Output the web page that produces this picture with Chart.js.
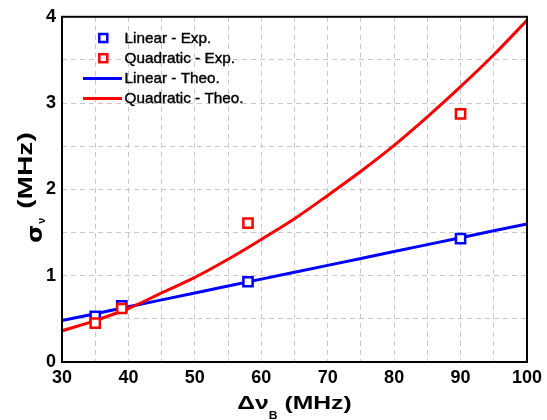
<!DOCTYPE html>
<html><head><meta charset="utf-8">
<script src="https://cdn.jsdelivr.net/npm/chart.js@4"></script>
<style>html,body{margin:0;padding:0;background:#fff}#wrap{width:547px;height:420px}</style>
</head><body><div id="wrap"><canvas id="c" width="547" height="420"></canvas></div>
<script>
// ---- data ----
const expX = [35, 39, 58, 90];
const linearExp = [0.53, 0.65, 0.93, 1.43];
const quadraticExp = [0.45, 0.62, 1.61, 2.875];
const theoX = [30, 35, 40, 45, 50, 55, 60, 65, 70, 75, 80, 85, 90, 95, 100];
const linearTheo = [0.48, 0.56, 0.64, 0.72, 0.80, 0.88, 0.96, 1.04, 1.12, 1.20, 1.28, 1.36, 1.44, 1.52, 1.60];
const quadraticTheo = [0.36, 0.48, 0.62, 0.80, 0.98, 1.19, 1.42, 1.66, 1.93, 2.21, 2.51, 2.84, 3.19, 3.56, 3.96];
const xTickLabels = [30, 40, 50, 60, 70, 80, 90, 100];
const yTickLabels = [0, 1, 2, 3, 4];
const seriesNames = ['Linear - Exp.', 'Quadratic - Exp.', 'Linear - Theo.', 'Quadratic - Theo.'];

const BLUE = '#0000ff', RED = '#ff0000';
const pts = (xs, ys) => xs.map((x, i) => ({x: x, y: ys[i]}));

const datasets = [
  {label: seriesNames[0], data: pts(expX, linearExp), showLine: false, pointStyle: 'rect',
   pointRadius: 6.5, borderColor: BLUE, backgroundColor: '#fff', pointBorderWidth: 2.5, order: 1, kind: 'marker'},
  {label: seriesNames[1], data: pts(expX, quadraticExp), showLine: false, pointStyle: 'rect',
   pointRadius: 6.5, borderColor: RED, backgroundColor: '#fff', pointBorderWidth: 2.5, order: 0, kind: 'marker'},
  {label: seriesNames[2], data: pts(theoX, linearTheo), showLine: true, pointRadius: 0,
   borderColor: BLUE, borderWidth: 3, fill: false, order: 3, kind: 'line'},
  {label: seriesNames[3], data: pts(theoX, quadraticTheo), showLine: true, pointRadius: 0,
   borderColor: RED, borderWidth: 3, fill: false, cubicInterpolationMode: 'monotone', order: 2, kind: 'line'}
];

const decor = {
  id: 'decor',
  afterDraw(chart) {
    const ctx = chart.ctx, a = chart.chartArea;
    ctx.save();
    // plot frame
    ctx.strokeStyle = '#000'; ctx.lineWidth = 2;
    ctx.strokeRect(a.left, a.top, a.right - a.left, a.bottom - a.top);

    // legend
    ctx.font = '15px "Liberation Sans", Arial, sans-serif';
    ctx.textBaseline = 'middle'; ctx.textAlign = 'left';
    chart.data.datasets.forEach((ds, i) => {
      const cy = a.top + 20.7 + i * 20.2;
      if (ds.kind === 'marker') {
        ctx.strokeStyle = ds.borderColor; ctx.lineWidth = 2.5; ctx.fillStyle = '#fff';
        ctx.fillRect(a.left + 37.3, cy - 3.5, 8, 8);
        ctx.strokeRect(a.left + 37.3, cy - 3.5, 8, 8);
      } else {
        ctx.strokeStyle = ds.borderColor; ctx.lineWidth = 3;
        ctx.beginPath(); ctx.moveTo(a.left + 21, cy + 0.5); ctx.lineTo(a.left + 60, cy + 0.5); ctx.stroke();
      }
      ctx.fillStyle = '#000'; ctx.strokeStyle = '#000'; ctx.lineWidth = 0.4;
      ctx.save(); ctx.translate(a.left + 62.5, cy + 1); ctx.scale(1.02, 1);
      ctx.fillText(ds.label, 0, 0); ctx.strokeText(ds.label, 0, 0); ctx.restore();
    });

    // x title: Δν_B (MHz)
    ctx.fillStyle = '#000'; ctx.textBaseline = 'alphabetic';
    const sx = 1.3;
    const mainF = 'bold 19px "Liberation Sans", Arial, sans-serif';
    const subF = 'bold 11px "Liberation Sans", Arial, sans-serif';
    ctx.font = mainF; const w1 = ctx.measureText('Δν').width * sx;
    const w3 = ctx.measureText(' (MHz)').width * sx;
    ctx.font = subF; const w2 = ctx.measureText('B').width * 1.1;
    let x0 = (a.left + a.right) / 2 - (w1 + w2 + w3) / 2;
    const base = a.bottom + 46.5;
    ctx.save(); ctx.translate(x0, base); ctx.scale(sx, 1); ctx.font = mainF; ctx.fillText('Δν', 0, 0); ctx.restore();
    ctx.save(); ctx.translate(x0 + w1, base + 10.5); ctx.scale(1.1, 1); ctx.font = subF; ctx.fillText('B', 0, 0); ctx.restore();
    ctx.save(); ctx.translate(x0 + w1 + w2, base); ctx.scale(sx, 1); ctx.font = mainF; ctx.fillText(' (MHz)', 0, 0); ctx.restore();

    // y title: σ_ν (MHz), rotated
    const yF = 'bold 21px "Liberation Sans", Arial, sans-serif';
    const sigF = 'bold 22px "DejaVu Sans", sans-serif';
    const nuF = 'bold 11px "Liberation Sans", Arial, sans-serif';
    ctx.save();
    ctx.rotate(-Math.PI / 2);
    const start = -(a.top + 226);
    ctx.save(); ctx.translate(start, 42); ctx.scale(1.05, 1); ctx.font = sigF; ctx.fillText('σ', 0, 0);
    const sw = ctx.measureText('σ').width; ctx.restore();
    ctx.save(); ctx.translate(start + sw * 1.05 + 1, 45); ctx.font = nuF; ctx.fillText('ν', 0, 0); ctx.restore();
    ctx.save(); ctx.translate(-(a.top + 192), 32); ctx.scale(1.34, 1); ctx.font = yF; ctx.fillText('(MHz)', 0, 0); ctx.restore();
    ctx.restore();
    ctx.restore();
  }
};

new Chart(document.getElementById('c'), {
  type: 'scatter',
  data: {datasets: datasets},
  options: {
    responsive: false, animation: false, devicePixelRatio: 1,
    layout: {padding: {left: 0, top: 16, right: 20, bottom: 0}},
    plugins: {legend: {display: false}, tooltip: {enabled: false}},
    elements: {line: {tension: 0}},
    scales: {
      x: {
        type: 'linear', min: 30, max: 100,
        afterFit(s) { s.height = 58; },
        afterBuildTicks(s) { s.ticks = []; for (let v = 30; v <= 100; v += 5) s.ticks.push({value: v}); },
        ticks: {
          callback: v => (xTickLabels.includes(v) ? String(v) : ''),
          color: '#000', padding: 5, maxRotation: 0, autoSkip: false,
          font: {family: '"Liberation Sans", Arial, sans-serif', size: 18, weight: 'bold'}
        },
        grid: {color: '#cbc4cf', lineWidth: 1, drawTicks: false},
        border: {display: false, dash: [5, 4]}
      },
      y: {
        type: 'linear', min: 0, max: 4,
        afterFit(s) { s.width = 62; },
        afterBuildTicks(s) { s.ticks = []; for (let v = 0; v <= 4; v += 0.5) s.ticks.push({value: v}); },
        ticks: {
          callback: v => (yTickLabels.includes(v) ? String(v) : ''),
          color: '#000', padding: 6, autoSkip: false,
          font: {family: '"Liberation Sans", Arial, sans-serif', size: 18, weight: 'bold'}
        },
        grid: {color: '#cbc4cf', lineWidth: 1, drawTicks: false},
        border: {display: false, dash: [5, 4]}
      }
    }
  },
  plugins: [decor]
});
</script>
</body></html>
